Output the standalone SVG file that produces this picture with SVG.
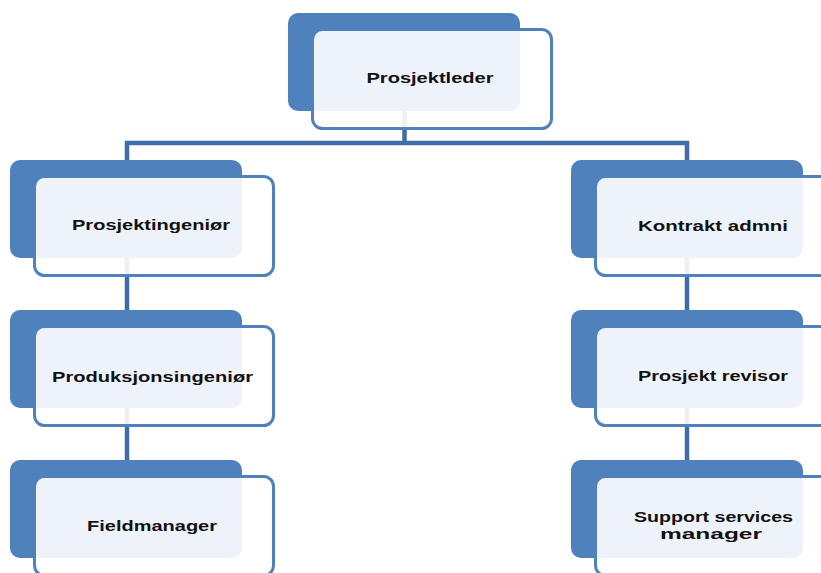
<svg xmlns="http://www.w3.org/2000/svg" width="821" height="573" viewBox="0 0 821 573">
<style>
.back{fill:#4F81BD}
.front{fill:#FFFFFF;fill-opacity:0.9;stroke:#4F81BD;stroke-width:3}
.conn{fill:none;stroke:#3F6DA8;stroke-width:4.5;stroke-linejoin:miter;stroke-linecap:butt}
.lbl{font-family:"Liberation Sans",Arial,sans-serif;font-weight:bold;font-size:15.5px;fill:#111;text-anchor:middle}
.sm{font-size:14px}
</style>
<rect width="821" height="573" fill="#FFFFFF"/>
<g id="connectors">
<line class="conn" x1="404.5" y1="100" x2="404.5" y2="143"/>
<polyline class="conn" points="127,165 127,143 687,143 687,165"/>
<line class="conn" x1="127" y1="250" x2="127" y2="315"/>
<line class="conn" x1="127" y1="400" x2="127" y2="465"/>
<line class="conn" x1="687" y1="250" x2="687" y2="315"/>
<line class="conn" x1="687" y1="400" x2="687" y2="465"/>
</g>
<g id="node-prosjektleder">
<rect class="back" x="288" y="13" width="232" height="98" rx="10"/>
<rect class="front" x="312.5" y="29.5" width="239" height="99" rx="10"/>
<text class="lbl" x="430" y="83" textLength="127" lengthAdjust="spacingAndGlyphs">Prosjektleder</text>
</g>
<g id="node-prosjektingenior">
<rect class="back" x="10" y="160" width="232" height="98" rx="10"/>
<rect class="front" x="34.5" y="176.5" width="239" height="99" rx="10"/>
<text class="lbl" x="151" y="230" textLength="158" lengthAdjust="spacingAndGlyphs">Prosjektingeniør</text>
</g>
<g id="node-produksjonsingenior">
<rect class="back" x="10" y="310" width="232" height="98" rx="10"/>
<rect class="front" x="34.5" y="326.5" width="239" height="99" rx="10"/>
<text class="lbl" x="152.5" y="382" textLength="201" lengthAdjust="spacingAndGlyphs">Produksjonsingeniør</text>
</g>
<g id="node-fieldmanager">
<rect class="back" x="10" y="460" width="232" height="98" rx="10"/>
<rect class="front" x="34.5" y="476.5" width="239" height="99" rx="10"/>
<text class="lbl" x="152" y="531" textLength="130" lengthAdjust="spacingAndGlyphs">Fieldmanager</text>
</g>
<g id="node-kontrakt-admni">
<rect class="back" x="571" y="160" width="232" height="98" rx="10"/>
<rect class="front" x="595.5" y="176.5" width="239" height="99" rx="10"/>
<text class="lbl" x="713" y="231" textLength="150" lengthAdjust="spacingAndGlyphs">Kontrakt admni</text>
</g>
<g id="node-prosjekt-revisor">
<rect class="back" x="571" y="310" width="232" height="98" rx="10"/>
<rect class="front" x="595.5" y="326.5" width="239" height="99" rx="10"/>
<text class="lbl" x="713" y="381" textLength="150" lengthAdjust="spacingAndGlyphs">Prosjekt revisor</text>
</g>
<g id="node-support-services-manager">
<rect class="back" x="571" y="460" width="232" height="98" rx="10"/>
<rect class="front" x="595.5" y="476.5" width="239" height="99" rx="10"/>
<text class="lbl sm" x="713.5" y="522" textLength="159" lengthAdjust="spacingAndGlyphs">Support services</text>
<text class="lbl sm" x="711" y="539" textLength="102" lengthAdjust="spacingAndGlyphs">manager</text>
</g>
</svg>
